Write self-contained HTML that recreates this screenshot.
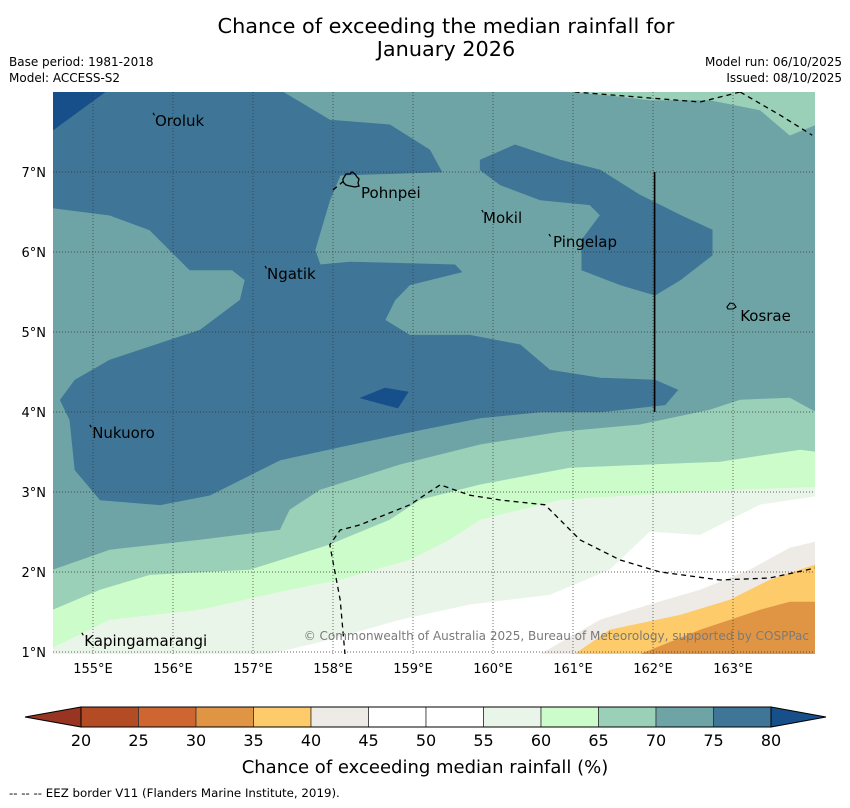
<!DOCTYPE html>
<html><head><meta charset="utf-8">
<style>
html,body{margin:0;padding:0;background:#fff;}
body{width:850px;height:804px;overflow:hidden;font-family:"DejaVu Sans","Liberation Sans",sans-serif;}
svg text{font-family:"DejaVu Sans","Liberation Sans",sans-serif;}
</style></head>
<body>
<svg id="chart" width="850" height="804" viewBox="0 0 850 804" xmlns="http://www.w3.org/2000/svg">
<text x="446" y="33" font-size="20.8" text-anchor="middle" fill="#000">Chance of exceeding the median rainfall for</text>
<text x="446" y="56" font-size="20.8" text-anchor="middle" fill="#000">January 2026</text>
<text x="9" y="66" font-size="12">Base period: 1981-2018</text>
<text x="9" y="82" font-size="12">Model: ACCESS-S2</text>
<text x="842" y="66" font-size="12" text-anchor="end">Model run: 06/10/2025</text>
<text x="842" y="82" font-size="12" text-anchor="end">Issued: 08/10/2025</text>
<defs><clipPath id="mapclip"><rect x="53" y="92" width="762" height="562"/></clipPath></defs>
<g id="map" clip-path="url(#mapclip)"></g>
<g id="axes"></g>
<g id="cbar"></g>
<text x="425" y="773" font-size="18" text-anchor="middle">Chance of exceeding median rainfall (%)</text>
<text x="9" y="797" font-size="11.8">--  --  -- EEZ border V11 (Flanders Marine Institute, 2019).</text>
</svg>
<script>
const lonTicks=[155,156,157,158,159,160,161,162,163];
const latTicks=[1,2,3,4,5,6,7];
const levels=[20,25,30,35,40,45,50,55,60,65,70,75,80];
const levelColors=["#b34b25","#cf6531","#e09545","#fdcb69","#eeeae6","#ffffff","#ffffff","#eaf5e9","#ccfcca","#9bd0b8","#6ea4a6","#3f7697"];
const underColor="#983522", overColor="#174f8a";

const base70=[[154.5,8],[164.03,8],[164.03,0.97],[154.5,0.97]];
const dark1=[[154.5,8],[157.375,8],[157.96,7.65],[158.71,7.59],[159.21,7.275],[159.36,7.0],[158.09,6.96],[157.96,6.65],[157.775,6.025],[157.84,5.84],[158.21,5.875],[159.525,5.84],[159.61,5.75],[158.96,5.59],[158.775,5.4],[158.65,5.15],[158.96,4.96],[159.71,4.96],[160.34,4.84],[160.71,4.525],[161.34,4.425],[162.025,4.4],[162.31,4.275],[162.15,4.09],[161.34,4.0],[160.59,4.0],[159.84,3.925],[159.09,3.775],[158.21,3.59],[157.34,3.4],[156.84,3.15],[156.46,2.96],[155.84,2.84],[155.09,2.9],[154.775,3.275],[154.71,3.9],[154.59,4.15],[154.775,4.4],[155.21,4.65],[156.34,5.025],[156.84,5.4],[156.9,5.65],[156.74,5.775],[156.21,5.775],[155.71,6.275],[155.21,6.46],[154.5,6.55]];
const dark2=[[159.84,7.15],[160.275,7.34],[160.84,7.15],[161.34,7.025],[161.84,6.71],[162.34,6.46],[162.74,6.275],[162.74,5.96],[162.34,5.65],[162.025,5.46],[161.59,5.59],[161.11,5.775],[161.11,6.15],[161.34,6.46],[161.21,6.59],[160.59,6.65],[160.09,6.84],[159.84,7.025]];
const over1=[[154.5,8],[155.15,8],[154.5,7.525]];
const over2=[[158.34,4.175],[158.65,4.3],[158.94,4.25],[158.81,4.05]];
const topRight65=[[160.96,8],[164.03,8],[164.03,7.59],[163.71,7.46],[163.34,7.775],[162.71,7.9],[161.96,7.9],[161.46,7.96]];
const band65=[[154.5,2.025],[155.21,2.275],[156.34,2.4],[157.34,2.525],[157.46,2.775],[157.84,3.025],[158.84,3.34],[159.84,3.59],[160.84,3.75],[161.84,3.84],[162.71,4.025],[163.09,4.15],[163.71,4.175],[164.03,4.0]];
const band60=[[154.5,1.525],[155.09,1.775],[155.71,1.96],[156.96,2.025],[157.96,2.34],[158.71,2.65],[159.09,2.9],[159.84,3.09],[160.96,3.3],[161.96,3.34],[162.84,3.375],[163.84,3.525],[164.03,3.5]];
const band55=[[154.5,1.05],[155.21,1.4],[156.34,1.525],[157.46,1.775],[158.09,1.9],[158.96,2.15],[159.46,2.4],[159.84,2.65],[160.84,2.9],[161.84,2.96],[163.09,3.025],[164.03,3.06]];
const band50=[[157.21,0.97],[157.96,1.15],[158.84,1.4],[159.71,1.59],[160.71,1.71],[161.46,2.025],[161.96,2.5],[162.59,2.46],[163.34,2.84],[164.03,2.94]];
const band40=[[160.59,0.97],[161.34,1.4],[161.96,1.59],[162.59,1.775],[163.21,2.025],[163.71,2.3],[164.03,2.375]];
const band35=[[161.02,0.97],[161.46,1.275],[162.34,1.46],[162.96,1.65],[163.46,1.9],[164.03,2.09]];
const band30=[[161.84,0.97],[162.59,1.275],[163.34,1.525],[163.71,1.625],[164.03,1.625]];
const eezA=[[161.02,8],[162.59,7.875],[163.09,8]];
const eezB=[[163.09,8],[163.59,7.71],[163.99,7.46]];
const eezC=[[158.15,0.97],[158.09,1.65],[157.96,2.34],[158.09,2.525],[158.34,2.59],[158.96,2.84],[159.34,3.09],[159.71,2.96],[160.09,2.9],[160.65,2.84],[161.09,2.4],[161.59,2.15],[162.09,2.0],[162.84,1.9],[163.46,1.925],[164.03,2.05]];
const eezD=[[158.0,6.775],[158.15,6.9]];
const eezSolid=[[162.02,7.0],[162.02,4.0]];
const placeNames=["Oroluk","Pohnpei","Mokil","Pingelap","Ngatik","Kosrae","Nukuoro","Kapingamarangi"];
const markerLon=[155.75,null,159.86,160.7,157.15,null,154.96,154.86];
const markerLat=[7.74,null,6.525,6.225,5.825,null,3.84,1.24];
const labelLon=[155.775,158.35,159.875,160.75,157.175,163.09,154.99,154.89];
const labelLat=[7.575,6.675,6.36,6.06,5.66,5.14,3.675,1.075];

const NS="http://www.w3.org/2000/svg";
const xS=lon=>53+(lon-154.5)*80;
const yS=lat=>92+(8-lat)*80;
function mk(tag,attrs,parent){const e=document.createElementNS(NS,tag);for(const k in attrs)e.setAttribute(k,attrs[k]);parent.appendChild(e);return e;}
const pts=a=>a.map(p=>xS(p[0]).toFixed(1)+","+yS(p[1]).toFixed(1)).join(" ");
const map=document.getElementById("map"),ax=document.getElementById("axes"),cb=document.getElementById("cbar");
function region(arr,color,name,closeBottom){
  let a=arr.slice();
  if(closeBottom){a.push([164.1,0.9]);a.push([154.4,0.9]);}
  const p=mk("polygon",{points:pts(a),fill:color,stroke:color,"stroke-width":0.6},map);
  
  
}
region(base70,levelColors[10],"region-70-75",false);
region(dark1,levelColors[11],"region-75-80-west",false);
region(dark2,levelColors[11],"region-75-80-east",false);
region(over1,overColor,"region-over-80-nw",false);
region(over2,overColor,"region-over-80-center",false);
region(topRight65,levelColors[9],"region-65-70-ne",false);
region(band65,levelColors[9],"band-65-70",true);
region(band60,levelColors[8],"band-60-65",true);
region(band55,levelColors[7],"band-55-60",true);
region(band50,levelColors[6],"band-45-55",true);
region(band40,levelColors[4],"band-40-45",true);
region(band35,levelColors[3],"band-35-40",true);
region(band30,levelColors[2],"band-30-35",true);
lonTicks.forEach(l=>{const g=mk("line",{x1:xS(l),x2:xS(l),y1:92,y2:654,stroke:"#333","stroke-width":0.7,"stroke-dasharray":"1,2"},map);});
latTicks.forEach(l=>{const g=mk("line",{x1:53,x2:815,y1:yS(l),y2:yS(l),stroke:"#333","stroke-width":0.7,"stroke-dasharray":"1,2"},map);});
[[eezA,"eez-border-ne"],[eezB,"eez-border-ne2"],[eezC,"eez-border-south"],[eezD,"eez-border-pohnpei"]].forEach(([a,n])=>{const l=mk("polyline",{points:pts(a),fill:"none",stroke:"#000","stroke-width":1.3,"stroke-dasharray":"5,4"},map);});
{const l=mk("polyline",{points:pts(eezSolid),fill:"none",stroke:"#000","stroke-width":1.6},map);}
{const p=mk("path",{d:"M343,179 l3,-5 4,0 2,-2 3,2 2,3 2,2 -1,4 1,3 -4,1 -5,-1 -4,-1 -3,-3 z",fill:"none",stroke:"#000","stroke-width":1.3},map);}
{const p=mk("path",{d:"M727,307 l3,-4 4,1 2,3 -3,2 -5,0 z",fill:"none",stroke:"#000","stroke-width":1.1},map);}
placeNames.forEach((n,i)=>{
  if(markerLon[i]!==null){const x=xS(markerLon[i]),y=yS(markerLat[i]);const m=mk("line",{x1:x,y1:y,x2:x+1.5,y2:y+2.5,stroke:"#000","stroke-width":1.2},map);}
  const t=mk("text",{x:xS(labelLon[i]),y:yS(labelLat[i]),"font-size":15,fill:"#000"},map);t.textContent=n;
  
  
});
{const t=mk("text",{x:809,y:640,"font-size":12,fill:"#7a7a7a","text-anchor":"end"},map);t.textContent="© Commonwealth of Australia 2025, Bureau of Meteorology, supported by COSPPac";}
lonTicks.forEach(l=>{const t=mk("text",{x:xS(l),y:673,"font-size":13,"text-anchor":"middle"},ax);t.textContent=l+"°E";});
latTicks.forEach(l=>{const t=mk("text",{x:46,y:yS(l)+5,"font-size":13,"text-anchor":"end"},ax);t.textContent=l+"°N";});
const cx0=81,cx1=771,cy=707,ch=20,bw=(cx1-cx0)/(levels.length-1);
{const p=mk("polygon",{points:`${cx0},${cy} ${cx0},${cy+ch} 25,${cy+ch/2}`,fill:underColor,stroke:"#000","stroke-width":1},cb);}
{const p=mk("polygon",{points:`${cx1},${cy} ${cx1},${cy+ch} 826,${cy+ch/2}`,fill:overColor,stroke:"#000","stroke-width":1},cb);}
levelColors.forEach((c,i)=>{const r=mk("rect",{x:cx0+i*bw,y:cy,width:bw,height:ch,fill:c,stroke:"#333","stroke-width":0.8},cb);});
{const r=mk("rect",{x:cx0,y:cy,width:cx1-cx0,height:ch,fill:"none",stroke:"#000","stroke-width":1},cb);}
levels.forEach((v,i)=>{const t=mk("text",{x:cx0+i*bw,y:746,"font-size":16,"text-anchor":"middle"},cb);t.textContent=v;});
</script>
</body></html>
